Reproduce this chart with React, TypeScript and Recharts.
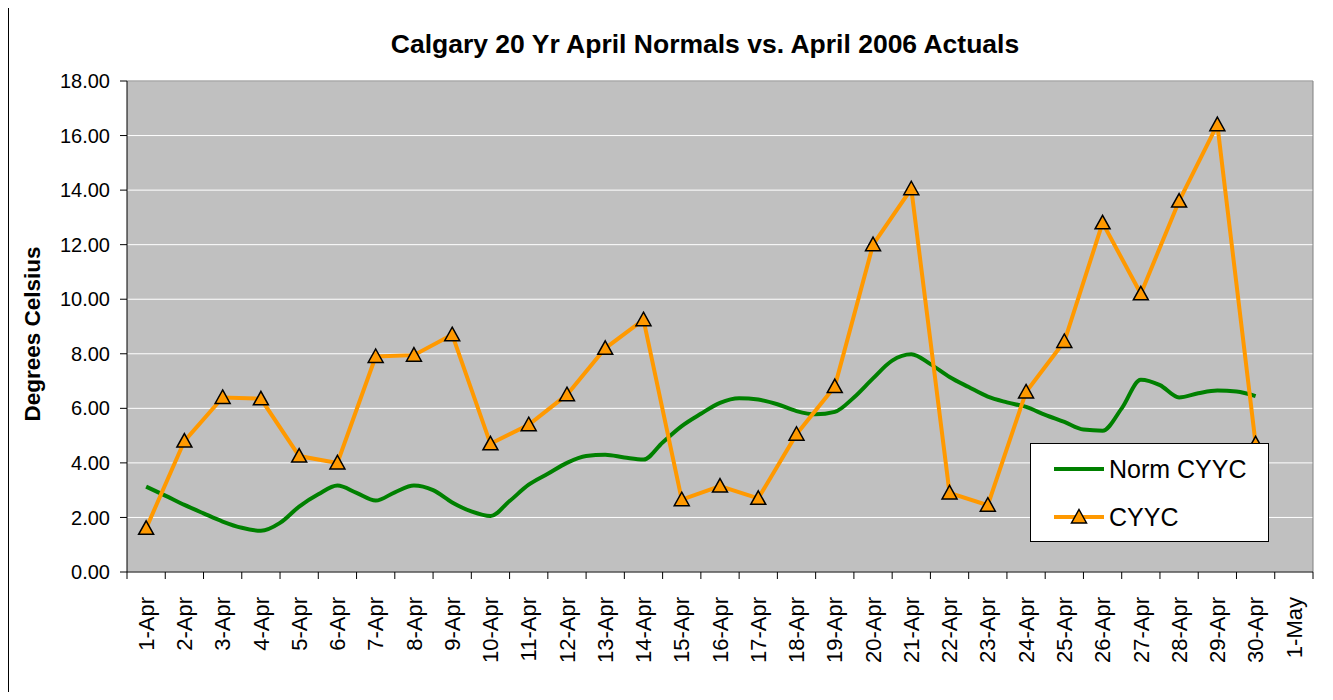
import { LineChart, Line, XAxis, YAxis, CartesianGrid, ReferenceLine } from 'recharts'

const DAYS = [
  '1-Apr', '2-Apr', '3-Apr', '4-Apr', '5-Apr', '6-Apr', '7-Apr', '8-Apr', '9-Apr', '10-Apr',
  '11-Apr', '12-Apr', '13-Apr', '14-Apr', '15-Apr', '16-Apr', '17-Apr', '18-Apr', '19-Apr', '20-Apr',
  '21-Apr', '22-Apr', '23-Apr', '24-Apr', '25-Apr', '26-Apr', '27-Apr', '28-Apr', '29-Apr', '30-Apr',
  '1-May',
]

// April 2006 daily actuals, 1-Apr .. 30-Apr
const CYYC = [
  1.6, 4.8, 6.4, 6.35, 4.25, 4.0, 7.9, 7.95, 8.7, 4.7,
  5.4, 6.5, 8.2, 9.25, 2.65, 3.15, 2.7, 5.05, 6.8, 12.0,
  14.05, 2.9, 2.45, 6.6, 8.45, 12.8, 10.2, 13.6, 16.4, 4.7,
]

// 20 yr normals, half-day steps from 1-Apr to 30-Apr
const NORM_CYYC = [
  3.13, 2.8, 2.46, 2.15, 1.85, 1.62, 1.51, 1.8, 2.4, 2.85,
  3.17, 2.9, 2.62, 2.92, 3.17, 3.0, 2.55, 2.22, 2.05, 2.6,
  3.2, 3.6, 4.0, 4.25, 4.3, 4.2, 4.12, 4.75, 5.35, 5.8,
  6.2, 6.37, 6.32, 6.15, 5.9, 5.78, 5.87, 6.4, 7.1, 7.75,
  7.98, 7.62, 7.15, 6.78, 6.43, 6.22, 6.05, 5.76, 5.5, 5.22,
  5.18, 6.0, 7.05, 6.85, 6.4, 6.55, 6.65, 6.62, 6.45,
]

const Y_TICKS = [0, 2, 4, 6, 8, 10, 12, 14, 16, 18]

const cyycData = CYYC.map((v, i) => ({ day: i + 1, cyyc: v }))
const normData = NORM_CYYC.map((v, i) => ({ day: 1 + i / 2, norm: v }))

const FONT = '"Liberation Sans", Arial, sans-serif'
const ORANGE = '#FF9900'
const GREEN = '#008000'

const W = 1317
const H = 684
const MARGIN = { top: 73, right: 12, bottom: 20, left: 19 }
const Y_W = 100
const HALF = (W - MARGIN.left - MARGIN.right - Y_W) / DAYS.length / 2

const XTick = (props: any) => {
  const { x, y, payload, index } = props
  const ay = y - 25
  return (
    <g>
      <line x1={x - HALF} x2={x - HALF} y1={ay} y2={ay + 7} stroke="#000" />
      {index === DAYS.length - 1 && (
        <line x1={x + HALF} x2={x + HALF} y1={ay} y2={ay + 7} stroke="#000" />
      )}
      <text
        x={x}
        y={y}
        transform={`rotate(-90, ${x}, ${y})`}
        textAnchor="end"
        dy="0.35em"
        fill="#000"
        fontSize={22}
        fontFamily={FONT}
      >
        {DAYS[payload.value - 1]}
      </text>
    </g>
  )
}

const triangle = (props: any) => {
  const { cx, cy, index } = props
  return (
    <path
      key={`tri-${index}`}
      d={`M${cx},${cy - 7.5} L${cx + 7.5},${cy + 6} L${cx - 7.5},${cy + 6} Z`}
      fill={ORANGE}
      stroke="#000"
      strokeWidth={1.5}
    />
  )
}

const LegendBox = () => (
  <div
    style={{
      position: 'absolute',
      left: 1022,
      top: 435,
      width: 239,
      height: 99,
      boxSizing: 'border-box',
      border: '1px solid #000',
      background: '#fff',
      fontFamily: FONT,
      fontSize: 25,
    }}
  >
    <svg width={80} height={99} style={{ position: 'absolute', left: 0, top: 0 }}>
      <line x1={23} x2={73} y1={25} y2={25} stroke={GREEN} strokeWidth={4} />
      <line x1={23} x2={73} y1={73} y2={73} stroke={ORANGE} strokeWidth={4} />
      <path d="M48,65.5 L55.5,79 L40.5,79 Z" fill={ORANGE} stroke="#000" strokeWidth={1.5} />
    </svg>
    <div style={{ position: 'absolute', left: 78, top: 10, lineHeight: '30px' }}>Norm CYYC</div>
    <div style={{ position: 'absolute', left: 78, top: 58, lineHeight: '30px' }}>CYYC</div>
  </div>
)

export default function App() {
  return (
    <div style={{ position: 'relative', width: W, height: H, background: '#fff', fontFamily: FONT }}>
      <LineChart width={W} height={H} margin={MARGIN}>
        <CartesianGrid vertical={false} stroke="#fff" fill="#C0C0C0" />
        <XAxis
          dataKey="day"
          type="number"
          domain={[0.5, 31.5]}
          ticks={DAYS.map((_, i) => i + 1)}
          allowDataOverflow
          interval={0}
          height={100}
          tickSize={7}
          tickMargin={18}
          tickLine={false}
          axisLine={{ stroke: '#000' }}
          tick={<XTick />}
        />
        <YAxis
          type="number"
          domain={[0, 18]}
          ticks={Y_TICKS}
          interval={0}
          width={Y_W}
          tickSize={7}
          tickMargin={10}
          tickFormatter={(v: number) => v.toFixed(2)}
          axisLine={{ stroke: '#000' }}
          tickLine={{ stroke: '#000' }}
          tick={{ fill: '#000', fontSize: 20, fontFamily: FONT }}
        />
        <ReferenceLine y={18} stroke="#808080" />
        <ReferenceLine x={31.5} stroke="#808080" />
        <Line
          data={normData}
          dataKey="norm"
          name="Norm CYYC"
          type="monotone"
          stroke={GREEN}
          strokeWidth={4}
          dot={false}
          isAnimationActive={false}
        />
        <Line
          data={cyycData}
          dataKey="cyyc"
          name="CYYC"
          type="linear"
          stroke={ORANGE}
          strokeWidth={4}
          dot={triangle}
          isAnimationActive={false}
        />
      </LineChart>
      <LegendBox />
      <div
        style={{
          position: 'absolute',
          left: 297,
          top: 21,
          width: 800,
          textAlign: 'center',
          fontSize: 26.5,
          fontWeight: 'bold',
          lineHeight: '30px',
        }}
      >
        Calgary 20 Yr April Normals vs. April 2006 Actuals
      </div>
      <div
        style={{
          position: 'absolute',
          left: -125,
          top: 311,
          width: 300,
          height: 30,
          lineHeight: '30px',
          textAlign: 'center',
          fontSize: 22.5,
          fontWeight: 'bold',
          transform: 'rotate(-90deg)',
        }}
      >
        Degrees Celsius
      </div>
      <div
        style={{
          position: 'absolute',
          left: 0,
          top: -1,
          width: W,
          height: H + 1,
          borderLeft: '1px solid #000',
          borderTop: '1px solid #000',
          pointerEvents: 'none',
        }}
      />
    </div>
  )
}
